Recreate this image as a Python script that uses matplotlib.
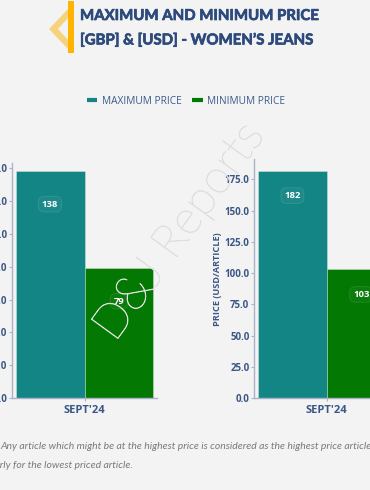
import matplotlib
matplotlib.use("Agg")
import matplotlib.pyplot as plt
import matplotlib.patheffects as pe
from matplotlib.patches import Polygon, Rectangle
from matplotlib.lines import Line2D

# data
periods = ["SEPT'24"]
series = ["MAXIMUM PRICE", "MINIMUM PRICE"]
gbp_max = [138]
gbp_min = [79]
usd_max = [182]
usd_min = [103]
gbp_ticks = [0, 20, 40, 60, 80, 100, 120, 140]
usd_ticks = [0, 25, 50, 75, 100, 125, 150, 175]

TEAL = '#148585'
GREEN = '#037803'
NAVY = '#2d4a7c'
TICK = '#3b5785'
SPINE = '#a9b3c8'

W, H = 370, 490
fig = plt.figure(figsize=(W / 100, H / 100), dpi=100, facecolor='#f3f3f3')


def px(x, y):
    return x / W, 1 - y / H


def draw_chart(ax, maxv, minv, ticks, ylim, ylabel):
    w = 0.4
    x = list(range(len(periods)))
    b1 = ax.bar([i - w / 2 for i in x], maxv, w, color=TEAL,
                edgecolor=(1, 1, 1, 0.35), linewidth=0.6)
    b2 = ax.bar([i + w / 2 for i in x], minv, w, color=GREEN,
                edgecolor=(1, 1, 1, 0.35), linewidth=0.6)
    for bars, vals in ((b1, maxv), (b2, minv)):
        for r, v in zip(bars, vals):
            ax.text(r.get_x() + r.get_width() / 2, v - 20, f"{v}",
                    ha='center', va='center', color='white', fontsize=6.8,
                    fontweight='bold', family='Open Sans',
                    bbox=dict(boxstyle='round,pad=0.35,rounding_size=0.6',
                              facecolor=(1, 1, 1, 0.04),
                              edgecolor=(1, 1, 1, 0.12), linewidth=0.6))
    ax.set_xlim(-0.4214, 0.4214)
    ax.set_ylim(*ylim)
    ax.set_xticks(x)
    ax.set_xticklabels(periods)
    ax.set_yticks(ticks)
    ax.set_yticklabels([f"{t:.1f}" for t in ticks])
    ax.set_ylabel(ylabel, fontsize=6.6, fontweight='bold', color=TICK,
                  family='Open Sans', labelpad=2)
    ax.set_facecolor('none')
    for s in ('top', 'right'):
        ax.spines[s].set_visible(False)
    for s in ('left', 'bottom'):
        ax.spines[s].set_color(SPINE)
        ax.spines[s].set_linewidth(1.0)
    ax.tick_params(axis='y', length=2.5, width=0.8, color=SPINE, pad=1,
                   labelsize=7, labelcolor=TICK)
    ax.tick_params(axis='x', length=2.5, width=0.8, color=SPINE, pad=2,
                   labelsize=8, labelcolor=TICK)
    for lab in ax.get_xticklabels() + ax.get_yticklabels():
        lab.set_fontweight('bold')
        lab.set_family('Open Sans')


ax1 = fig.add_axes([12 / W, 1 - 398.3 / H, 145 / W, 235.3 / H])
draw_chart(ax1, gbp_max, gbp_min, gbp_ticks, (0, 143), "PRICE (GBP/ARTICLE)")

ax2 = fig.add_axes([254.3 / W, 1 - 398.3 / H, 145 / W, 239 / H])
draw_chart(ax2, usd_max, usd_min, usd_ticks, (0, 191), "PRICE (USD/ARTICLE)")

# title decoration
chev = [(69, 8), (49, 29), (69, 50), (69, 41), (58, 29), (69, 17)]
fig.add_artist(Polygon([px(a, b) for a, b in chev], closed=True,
                       facecolor='#f6d27c', edgecolor='none',
                       transform=fig.transFigure))
x0, y0 = px(68, 53)
fig.add_artist(Rectangle((x0, y0), 6 / W, 52 / H, facecolor='#ffb400',
                         edgecolor='none', transform=fig.transFigure))

heavy = [pe.withStroke(linewidth=0.5, foreground=NAVY)]
fig.text(*px(80, 16), "MAXIMUM AND MINIMUM PRICE", ha='left', va='center',
         fontsize=10.8, fontweight='bold', color=NAVY, family='Lato',
         path_effects=heavy)
fig.text(*px(80, 40), "[GBP] & [USD] - WOMEN\u2019S JEANS", ha='left',
         va='center', fontsize=10.8, fontweight='bold', color=NAVY,
         family='Lato', path_effects=heavy)

# legend
handles = [Line2D([], [], color=TEAL, lw=3, solid_capstyle='butt'),
           Line2D([], [], color=GREEN, lw=3, solid_capstyle='butt')]
leg = fig.legend(handles, series, loc='center', bbox_to_anchor=px(186, 101),
                 ncol=2, frameon=False, handlelength=1.0, handletextpad=0.4,
                 columnspacing=1.1, prop={'family': 'Open Sans', 'size': 7.3})
for t in leg.get_texts():
    t.set_color('#3d5a8c')

# watermark
fig.text(*px(180, 232), "D&J Reports", ha='center', va='center',
         rotation=54, fontsize=34, family='Lato', fontweight='light',
         color=(1, 1, 1, 0),
         path_effects=[pe.withStroke(linewidth=0.5, foreground='#dedede')])

# footnote
fig.text(*px(0.5, 446), "Any article which might be at the highest price is "
         "considered as the highest price article", ha='left', va='center',
         fontsize=7.5, style='italic', color='#7a7a7a', family='Lato')
fig.text(*px(133, 465), "Similarly for the lowest priced article.",
         ha='right', va='center', fontsize=7.5, style='italic',
         color='#7a7a7a', family='Lato')

fig.savefig("out.png", dpi=100, facecolor=fig.get_facecolor())
